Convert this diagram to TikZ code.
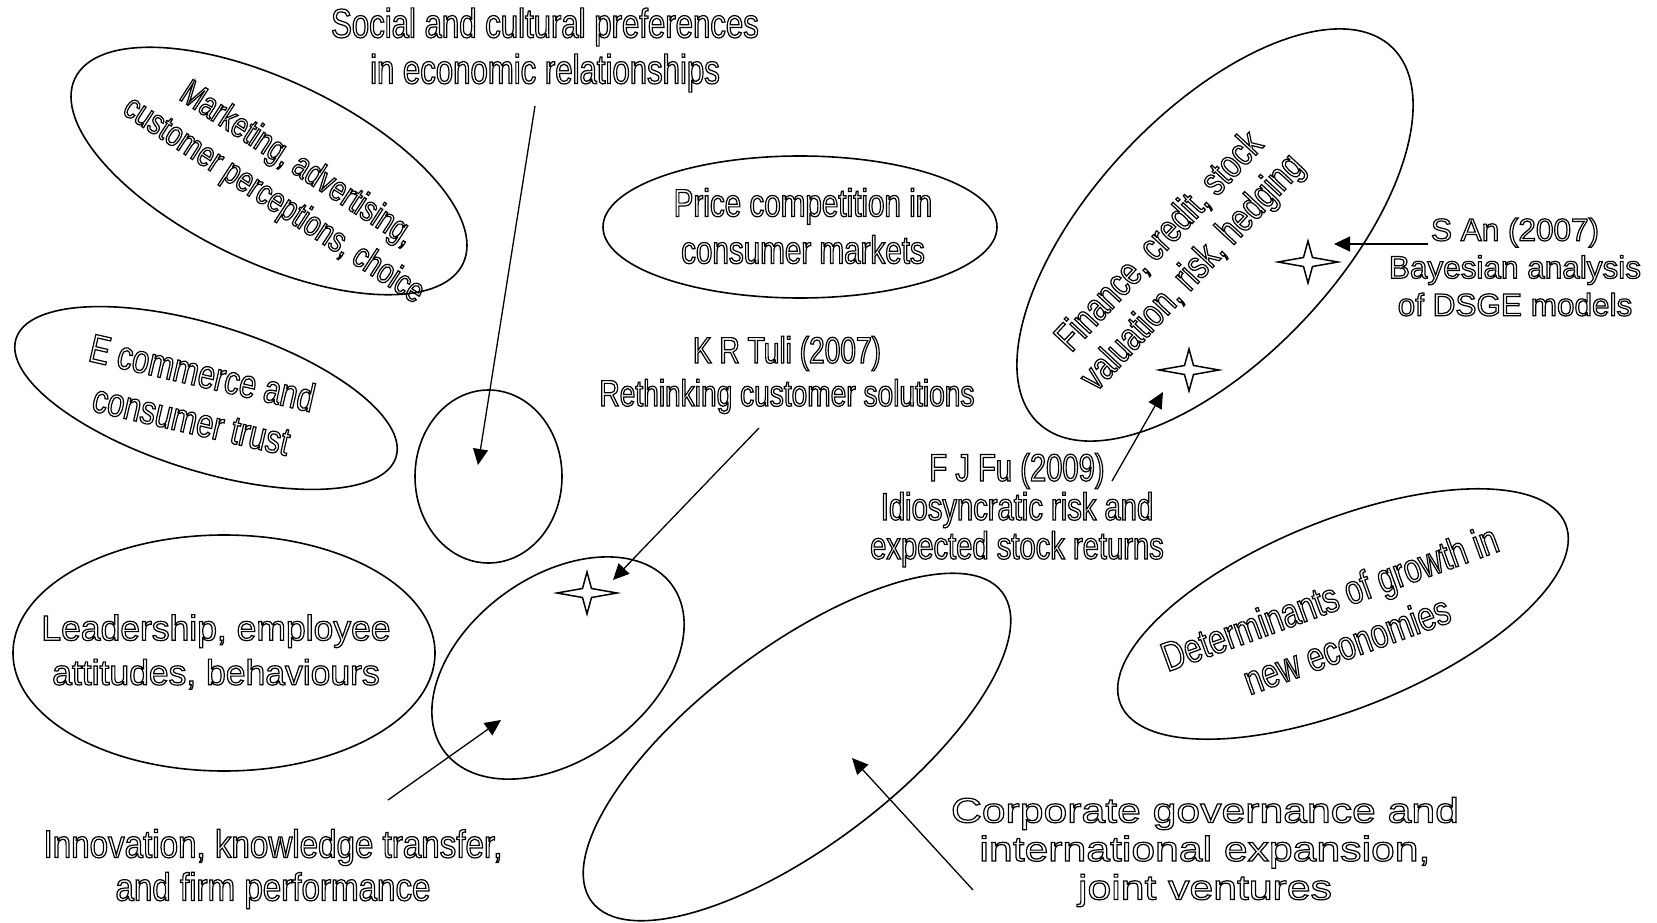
\documentclass[tikz,border=0pt]{standalone}
\usepackage{fontspec}
\setmainfont{Liberation Sans}
\newfontfamily\narrowfont{Liberation Sans}[FakeStretch=0.76]
\newfontfamily\semifont{Liberation Sans}[FakeStretch=0.85]
\newfontfamily\widefont{Liberation Sans}[FakeStretch=1.22]
\usetikzlibrary{shapes.geometric,arrows.meta}
% hollow (outlined) lettering: stroke the glyphs instead of filling them
\newcommand{\olt}[1]{\special{pdf:literal direct 1 Tr 1.2 w}#1\special{pdf:literal direct 0 Tr}}
\tikzset{
  blob/.style={draw, ellipse, line width=1.6pt, inner sep=0pt},
  lbl/.style={align=center, inner sep=0pt},
  ptr/.style={line width=1.3pt, -{Triangle[length=16pt,width=15pt]}},
  sparkle/.pic={\draw[line width=1.5pt, fill=white]
     (30,0) -- (4.5,4.5) -- (0,21) -- (-4.5,4.5) -- (-30,0)
     -- (-4.5,-4.5) -- (0,-21) -- (4.5,-4.5) -- cycle;}
}
\begin{document}
\begin{tikzpicture}[x=1pt,y=-1pt]
\useasboundingbox (0,0) rectangle (1657,923);

% topic areas
\node[blob, minimum width=430, minimum height=182, rotate=-25.5] (mkt) at (269,171) {};
\node[blob, minimum width=398, minimum height=146, rotate=-17.3] (ecom) at (206,398) {};
\node[blob, minimum width=147, minimum height=173] (socc) at (488.5,476.5) {};
\node[blob, minimum width=422, minimum height=236] (lead) at (224,653) {};
\node[blob, minimum width=282, minimum height=183, rotate=36] (tuli) at (558,668) {};
\node[blob, minimum width=514, minimum height=198, rotate=37] (corp) at (797,747) {};
\node[blob, minimum width=394, minimum height=142] (price) at (800,227) {};
\node[blob, minimum width=516, minimum height=246, rotate=46.8] (fin) at (1215,235) {};
\node[blob, minimum width=480, minimum height=188, rotate=22] (det) at (1343,614) {};

% labels
\node[lbl, font=\narrowfont\fontsize{41}{46}\selectfont] (tsoc) at (545,50)
  {\olt{Social and cultural preferences}\\\olt{in economic relationships}};
\node[lbl, rotate=-33, font=\narrowfont\fontsize{35.5}{43}\selectfont] (tmkt) at (285,183)
  {\olt{Marketing, advertising,}\\\olt{customer perceptions, choice}};
\node[lbl, rotate=-13, font=\narrowfont\fontsize{40}{48}\selectfont] (tecom) at (197,396)
  {\olt{E commerce and}\\\olt{consumer trust}};
\node[lbl, font=\narrowfont\fontsize{39}{47}\selectfont] (tprice) at (803,226)
  {\olt{Price competition in}\\\olt{consumer markets}};
\node[lbl, font=\narrowfont\fontsize{37}{43}\selectfont] (ttuli) at (787,375)
  {\olt{K R Tuli (2007)}\\\olt{Rethinking customer solutions}};
\node[lbl, font=\fontsize{35.5}{44.5}\selectfont] (tlead) at (216,652)
  {\olt{Leadership, employee}\\\olt{attitudes, behaviours}};
\node[lbl, rotate=47, font=\narrowfont\fontsize{39.5}{45}\selectfont] (tfin) at (1177,258)
  {\olt{Finance, credit, stock}\\\olt{valuation, risk, hedging}};
\node[lbl, font=\fontsize{31.5}{37.5}\selectfont] (tsan) at (1515,267)
  {\olt{S An (2007)}\\\olt{Bayesian analysis}\\\olt{of DSGE models}};
\node[lbl, font=\narrowfont\fontsize{38.4}{39}\selectfont] (tfu) at (1017,510)
  {\olt{F J Fu (2009)}\\\olt{Idiosyncratic risk and}\\\olt{expected stock returns}};
\node[lbl, rotate=20, font=\narrowfont\fontsize{41}{50}\selectfont] (tdet) at (1338,621)
  {\olt{Determinants of growth in}\\\olt{new economies}};
\node[lbl, font=\semifont\fontsize{39}{43}\selectfont] (tinno) at (273,869)
  {\olt{Innovation, knowledge transfer,}\\\olt{and firm performance}};
\node[lbl, font=\widefont\fontsize{35}{38.5}\selectfont] (tcorp) at (1205,852)
  {\olt{Corporate governance and}\\\olt{international expansion,}\\\olt{joint ventures}};

% pointer ends
\coordinate (socA) at (535,106);  \coordinate (socB) at (478,465);
\coordinate (tuA) at (759,428);   \coordinate (tuB) at (613,580);
\coordinate (inA) at (388,800);   \coordinate (inB) at (501,720);
\coordinate (coA) at (973,890);   \coordinate (coB) at (852,758);
\coordinate (anA) at (1428,244);  \coordinate (anB) at (1334,244);
\coordinate (fuA) at (1112,481);  \coordinate (fuB) at (1163,392);

\draw[ptr] (socA) -- (socB);
\draw[ptr] (tuA) -- (tuB);
\draw[ptr] (inA) -- (inB);
\draw[ptr] (coA) -- (coB);
\draw[ptr] (anA) -- (anB);
\draw[ptr] (fuA) -- (fuB);

% marked papers
\pic (s1) at (587,593) {sparkle};
\pic (s2) at (1308,262) {sparkle};
\pic (s3) at (1189,370) {sparkle};
\end{tikzpicture}
\end{document}
